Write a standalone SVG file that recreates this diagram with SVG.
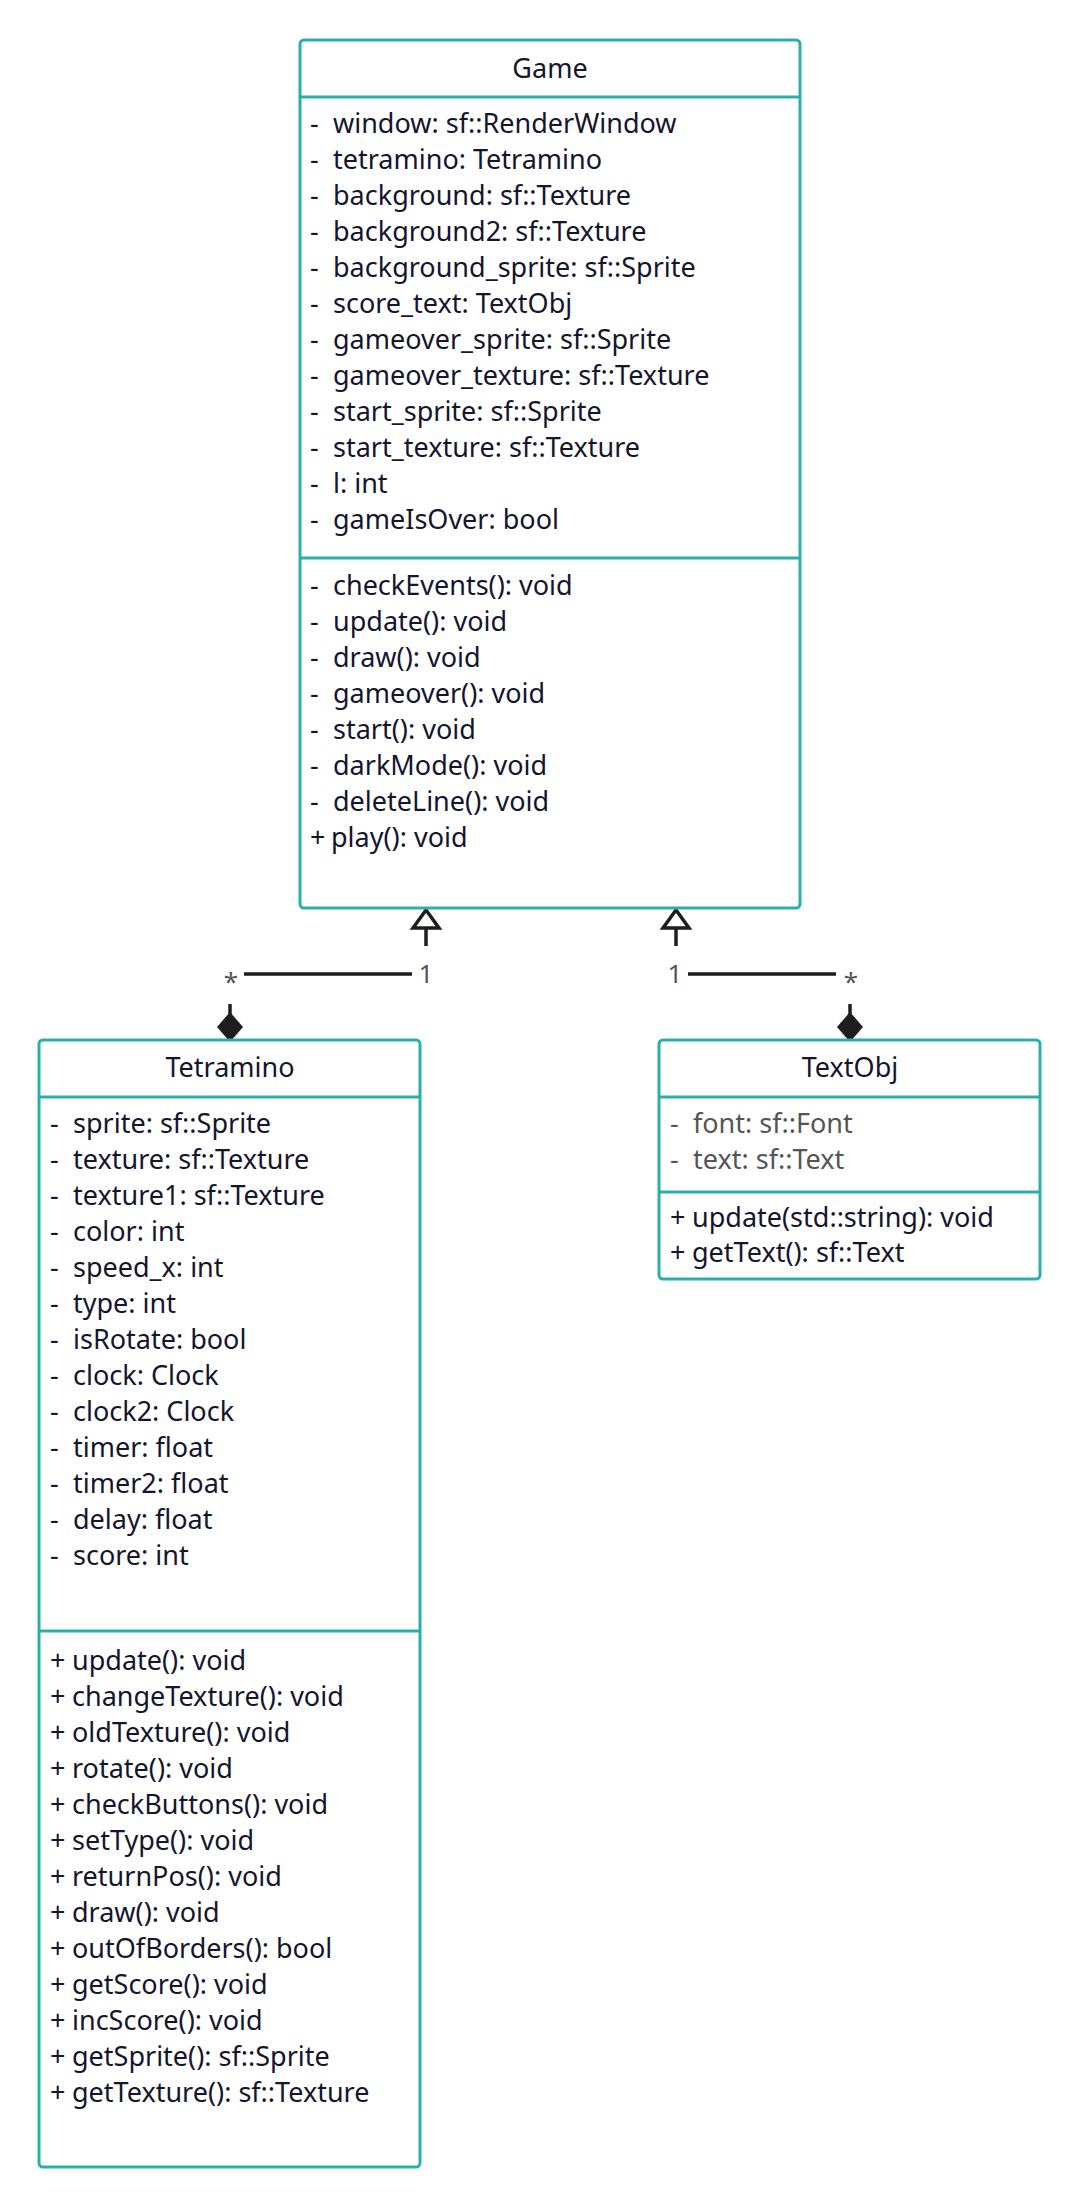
<svg xmlns="http://www.w3.org/2000/svg" width="1081" height="2208" viewBox="0 0 1081 2208">
<style>
.box{fill:#ffffff;stroke:#2aafac;stroke-width:3}
.div{stroke:#2aafac;stroke-width:3}
.t{font-family:"Noto Sans","Open Sans",sans-serif;font-size:27px;fill:#15152e}
.g{fill:#555555}
.h{text-anchor:middle}
.con{fill:none;stroke:#1e1e1e;stroke-width:3.5;stroke-linecap:butt}
.lbl{font-family:"Noto Sans","Open Sans",sans-serif;font-size:26px;fill:#555555;text-anchor:middle}
</style>
<rect width="1081" height="2208" fill="#ffffff"/>
<g id="connectors">
  <path class="con" d="M426,928 V946 M244,974 H412 M230,1004 V1014"/>
  <path d="M426,910 L413,928 L439,928 Z" fill="#ffffff" stroke="#1e1e1e" stroke-width="3.5" stroke-linejoin="miter"/>
  <path d="M230,1012 L243,1027 L230,1042 L217,1027 Z" fill="#1e1e1e"/>
  <text class="lbl" x="426" y="983">1</text>
  <text class="lbl" x="231" y="991">*</text>
  <path class="con" d="M676,928 V946 M688,974 H836 M850,1004 V1014"/>
  <path d="M676,910 L663,928 L689,928 Z" fill="#ffffff" stroke="#1e1e1e" stroke-width="3.5" stroke-linejoin="miter"/>
  <path d="M850,1012 L863,1027 L850,1042 L837,1027 Z" fill="#1e1e1e"/>
  <text class="lbl" x="675" y="983">1</text>
  <text class="lbl" x="851" y="991">*</text>
</g>
<g id="Game">
  <rect class="box" x="300" y="40" width="500" height="868" rx="4"/>
  <line class="div" x1="300" y1="97" x2="800" y2="97"/>
  <line class="div" x1="300" y1="558" x2="800" y2="558"/>
  <text class="t h" x="550" y="78">Game</text>
  <text class="t" x="310" y="133">-<tspan x="333">window: sf::RenderWindow</tspan></text>
  <text class="t" x="310" y="169">-<tspan x="333">tetramino: Tetramino</tspan></text>
  <text class="t" x="310" y="205">-<tspan x="333">background: sf::Texture</tspan></text>
  <text class="t" x="310" y="241">-<tspan x="333">background2: sf::Texture</tspan></text>
  <text class="t" x="310" y="277">-<tspan x="333">background_sprite: sf::Sprite</tspan></text>
  <text class="t" x="310" y="313">-<tspan x="333">score_text: TextObj</tspan></text>
  <text class="t" x="310" y="349">-<tspan x="333">gameover_sprite: sf::Sprite</tspan></text>
  <text class="t" x="310" y="385">-<tspan x="333">gameover_texture: sf::Texture</tspan></text>
  <text class="t" x="310" y="421">-<tspan x="333">start_sprite: sf::Sprite</tspan></text>
  <text class="t" x="310" y="457">-<tspan x="333">start_texture: sf::Texture</tspan></text>
  <text class="t" x="310" y="493">-<tspan x="333">l: int</tspan></text>
  <text class="t" x="310" y="529">-<tspan x="333">gameIsOver: bool</tspan></text>
  <text class="t" x="310" y="595">-<tspan x="333">checkEvents(): void</tspan></text>
  <text class="t" x="310" y="631">-<tspan x="333">update(): void</tspan></text>
  <text class="t" x="310" y="667">-<tspan x="333">draw(): void</tspan></text>
  <text class="t" x="310" y="703">-<tspan x="333">gameover(): void</tspan></text>
  <text class="t" x="310" y="739">-<tspan x="333">start(): void</tspan></text>
  <text class="t" x="310" y="775">-<tspan x="333">darkMode(): void</tspan></text>
  <text class="t" x="310" y="811">-<tspan x="333">deleteLine(): void</tspan></text>
  <text class="t" x="310" y="847">+<tspan x="331">play(): void</tspan></text>
</g>
<g id="Tetramino">
  <rect class="box" x="39" y="1040" width="381" height="1127" rx="4"/>
  <line class="div" x1="39" y1="1097" x2="420" y2="1097"/>
  <line class="div" x1="39" y1="1631" x2="420" y2="1631"/>
  <text class="t h" x="230" y="1077">Tetramino</text>
  <text class="t" x="50" y="1133">-<tspan x="73">sprite: sf::Sprite</tspan></text>
  <text class="t" x="50" y="1169">-<tspan x="73">texture: sf::Texture</tspan></text>
  <text class="t" x="50" y="1205">-<tspan x="73">texture1: sf::Texture</tspan></text>
  <text class="t" x="50" y="1241">-<tspan x="73">color: int</tspan></text>
  <text class="t" x="50" y="1277">-<tspan x="73">speed_x: int</tspan></text>
  <text class="t" x="50" y="1313">-<tspan x="73">type: int</tspan></text>
  <text class="t" x="50" y="1349">-<tspan x="73">isRotate: bool</tspan></text>
  <text class="t" x="50" y="1385">-<tspan x="73">clock: Clock</tspan></text>
  <text class="t" x="50" y="1421">-<tspan x="73">clock2: Clock</tspan></text>
  <text class="t" x="50" y="1457">-<tspan x="73">timer: float</tspan></text>
  <text class="t" x="50" y="1493">-<tspan x="73">timer2: float</tspan></text>
  <text class="t" x="50" y="1529">-<tspan x="73">delay: float</tspan></text>
  <text class="t" x="50" y="1565">-<tspan x="73">score: int</tspan></text>
  <text class="t" x="50" y="1670">+<tspan x="72">update(): void</tspan></text>
  <text class="t" x="50" y="1706">+<tspan x="72">changeTexture(): void</tspan></text>
  <text class="t" x="50" y="1742">+<tspan x="72">oldTexture(): void</tspan></text>
  <text class="t" x="50" y="1778">+<tspan x="72">rotate(): void</tspan></text>
  <text class="t" x="50" y="1814">+<tspan x="72">checkButtons(): void</tspan></text>
  <text class="t" x="50" y="1850">+<tspan x="72">setType(): void</tspan></text>
  <text class="t" x="50" y="1886">+<tspan x="72">returnPos(): void</tspan></text>
  <text class="t" x="50" y="1922">+<tspan x="72">draw(): void</tspan></text>
  <text class="t" x="50" y="1958">+<tspan x="72">outOfBorders(): bool</tspan></text>
  <text class="t" x="50" y="1994">+<tspan x="72">getScore(): void</tspan></text>
  <text class="t" x="50" y="2030">+<tspan x="72">incScore(): void</tspan></text>
  <text class="t" x="50" y="2066">+<tspan x="72">getSprite(): sf::Sprite</tspan></text>
  <text class="t" x="50" y="2102">+<tspan x="72">getTexture(): sf::Texture</tspan></text>
</g>
<g id="TextObj">
  <rect class="box" x="659" y="1040" width="381" height="239" rx="4"/>
  <line class="div" x1="659" y1="1097" x2="1040" y2="1097"/>
  <line class="div" x1="659" y1="1192" x2="1040" y2="1192"/>
  <text class="t h" x="850" y="1077">TextObj</text>
  <text class="t g" x="670" y="1133">-<tspan x="693">font: sf::Font</tspan></text>
  <text class="t g" x="670" y="1169">-<tspan x="693">text: sf::Text</tspan></text>
  <text class="t" x="670" y="1227">+<tspan x="692">update(std::string): void</tspan></text>
  <text class="t" x="670" y="1262">+<tspan x="692">getText(): sf::Text</tspan></text>
</g>
</svg>
